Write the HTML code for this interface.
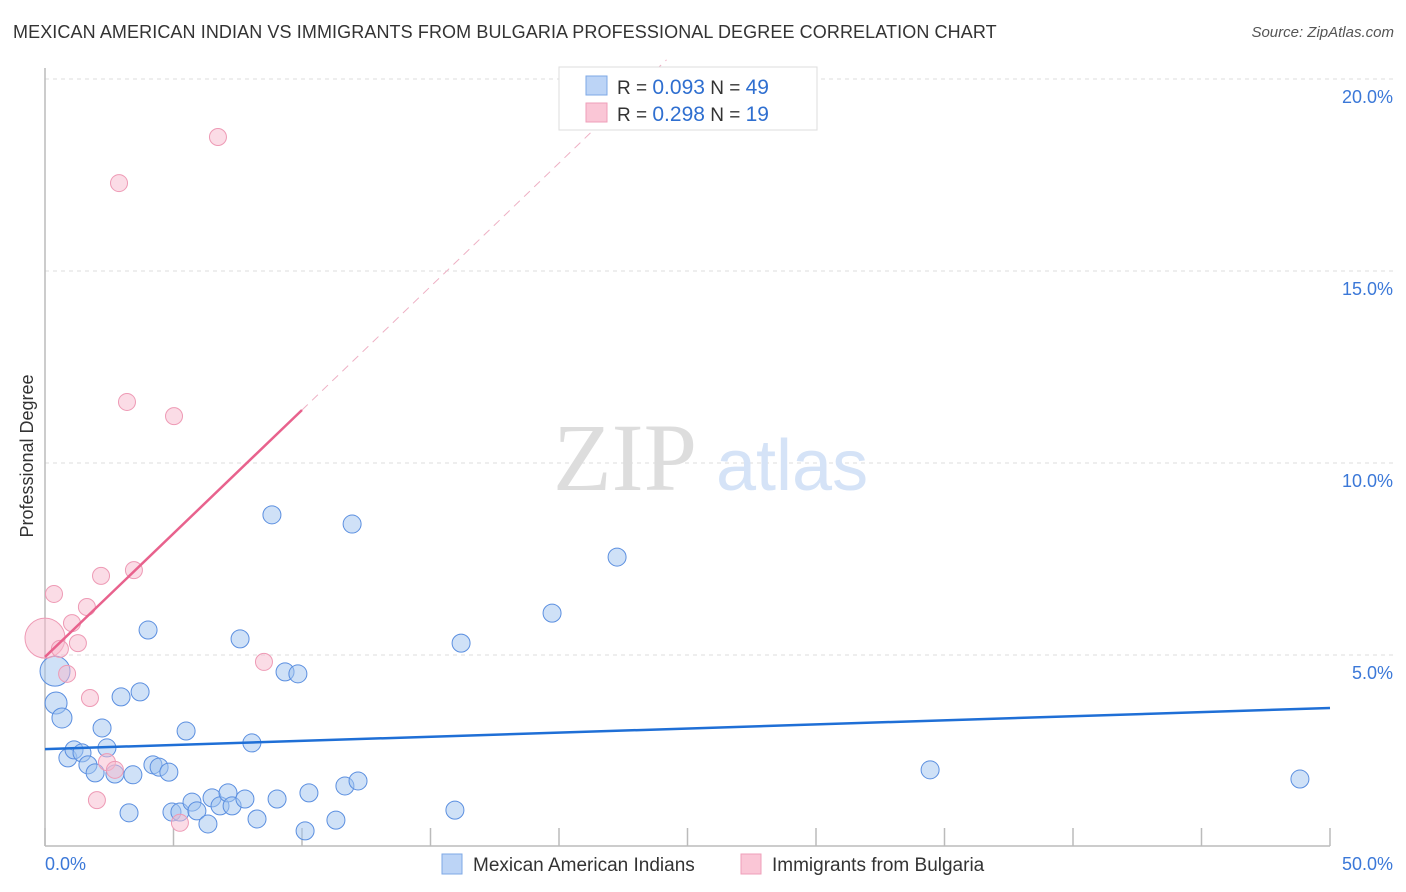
<!DOCTYPE html>
<html><head><meta charset="utf-8">
<style>
body{margin:0;background:#fff;font-family:"Liberation Sans",sans-serif;}
#wrap{position:relative;width:1406px;height:892px;overflow:hidden;}
.title{position:absolute;left:13px;top:22px;font-size:18px;color:#333;letter-spacing:0.1px;}
.source{position:absolute;right:12px;top:24px;font-size:15px;color:#555;font-style:italic;}
</style></head>
<body>
<div id="wrap">
<div class="title">MEXICAN AMERICAN INDIAN VS IMMIGRANTS FROM BULGARIA PROFESSIONAL DEGREE CORRELATION CHART</div>
<div class="source">Source: ZipAtlas.com</div>
<svg id="svg" width="1406" height="892" style="position:absolute;left:0;top:0"></svg>
</div>
<script>
const blueX=[0.39,0.43,0.66,0.89,1.13,1.44,1.67,1.95,2.22,2.41,2.72,2.96,3.27,3.42,3.70,4.01,4.20,4.44,4.82,4.94,5.25,5.49,5.72,5.91,6.34,6.50,6.81,7.12,7.28,7.59,7.78,8.05,8.25,8.83,9.03,9.34,9.84,10.12,10.27,11.32,11.67,11.95,12.18,15.95,16.19,19.73,22.26,34.44,48.83];
const blueY=[4.58,3.75,3.36,2.32,2.53,2.45,2.14,1.93,3.10,2.58,1.90,3.91,0.89,1.88,4.04,5.65,2.14,2.08,1.95,0.91,0.91,3.02,1.17,0.94,0.60,1.28,1.07,1.41,1.07,5.42,1.25,2.71,0.73,8.65,1.25,4.56,4.51,0.42,1.41,0.70,1.59,8.41,1.72,0.96,5.31,6.09,7.55,2.01,1.77];
const blueR=[15,11,10,9,9,9,9,9,9,9,9,9,9,9,9,9,9,9,9,9,9,9,9,9,9,9,9,9,9,9,9,9,9,9,9,9,9,9,9,9,9,9,9,9,9,9,9,9,9];
const pinkX=[0,0.35,0.58,0.86,1.05,1.28,1.63,1.75,2.02,2.18,2.41,2.72,2.88,3.19,3.46,5.02,5.25,6.73,8.52];
const pinkY=[5.44,6.59,5.16,4.51,5.83,5.31,6.25,3.88,1.22,7.06,2.21,2.01,17.29,11.59,7.21,11.22,0.63,18.49,4.82];
const pinkR=[20,8.5,8.5,8.5,8.5,8.5,8.5,8.5,8.5,8.5,8.5,8.5,8.5,8.5,8.5,8.5,8.5,8.5,8.5];
const yTicks=[5,10,15,20];
const yTickLabels=["5.0%","10.0%","15.0%","20.0%"];
const xTickVals=[0,5,10,15,20,25,30,35,40,45,50];
const blueTrend=[2.55,3.62];
const pinkTrend=[4.95,11.38];

const X0=45,X1=1330,YB=847,PX=25.7,PY=38.4;
const sx=v=>X0+v*PX, sy=v=>YB-v*PY;
const svg=document.getElementById('svg');
const NS='http://www.w3.org/2000/svg';
function mk(t,a,parent){const e=document.createElementNS(NS,t);for(const k in a)e.setAttribute(k,a[k]);(parent||svg).appendChild(e);return e;}

// gridlines
yTicks.forEach((v,i)=>{
 const g=mk('line',{x1:X0,x2:1395,y1:sy(v),y2:sy(v),stroke:'#ddd','stroke-dasharray':'4,4','stroke-width':1});
 
 
 const t=mk('text',{x:1393,y:sy(v)+24,'text-anchor':'end','font-size':18,fill:'#3b78d8','font-family':'Liberation Sans, sans-serif'});
 t.textContent=yTickLabels[i];
 
 
});
// top dashed line
const tl=mk('line',{x1:X0,x2:1395,y1:79,y2:79,stroke:'#ddd','stroke-dasharray':'4,4'});


// axes
const ya=mk('line',{x1:X0,x2:X0,y1:68,y2:846,stroke:'#bbb','stroke-width':1.5});


const xa=mk('line',{x1:X0,x2:1330,y1:846,y2:846,stroke:'#bbb','stroke-width':1.5});


xTickVals.forEach(v=>{
 const t=mk('line',{x1:sx(v),x2:sx(v),y1:828,y2:846,stroke:'#bbb','stroke-width':1.5});
 
 
});
// x labels
[[0,'0.0%','start',45],[50,'50.0%','end',1393]].forEach(a=>{
 const t=mk('text',{x:a[3],y:870,'text-anchor':a[2],'font-size':18,fill:'#3b78d8','font-family':'Liberation Sans, sans-serif'});
 t.textContent=a[1];
 
 
});
// y axis title
const yt=mk('text',{x:0,y:0,transform:'translate(33,456) rotate(-90)','text-anchor':'middle','font-size':18,fill:'#333','font-family':'Liberation Sans, sans-serif'});
yt.textContent='Professional Degree';


// watermark
const wm=mk('text',{x:553,y:490,'font-size':96,fill:'#ddd','font-family':'Liberation Serif, serif'});
wm.textContent='ZIP';


const wm2=mk('text',{x:716,y:490,'font-size':72,fill:'#d5e3f7','font-family':'Liberation Sans, sans-serif'});
wm2.textContent='atlas';



// points
blueX.forEach((x,i)=>{
 const c=mk('circle',{cx:sx(x),cy:sy(blueY[i]),r:blueR[i],fill:'rgba(160,195,240,0.5)',stroke:'#5b8fe0','stroke-width':1});
 
 
});
pinkX.forEach((x,i)=>{
 const c=mk('circle',{cx:sx(x),cy:sy(pinkY[i]),r:pinkR[i],fill:'rgba(248,185,205,0.5)',stroke:'#ee9ab5','stroke-width':1});
 
 
});
// trend lines
const bl=mk('line',{x1:sx(0),y1:sy(blueTrend[0]),x2:sx(50),y2:sy(blueTrend[1]),stroke:'#1f6fd6','stroke-width':2.5});


const slope=(pinkTrend[1]-pinkTrend[0])/10;
const pl=mk('line',{x1:sx(0),y1:sy(pinkTrend[0]),x2:sx(10),y2:sy(pinkTrend[1]),stroke:'#e8628d','stroke-width':2.5});


const xe=(20.5-pinkTrend[0])/slope;
const pd=mk('line',{x1:sx(10),y1:sy(pinkTrend[1]),x2:sx(xe),y2:sy(pinkTrend[0]+slope*xe),stroke:'#eeb0c4','stroke-width':1,'stroke-dasharray':'8,6'});



// top legend
const lg=mk('g',{});


mk('rect',{x:559,y:67,width:258,height:63,fill:'#fff',stroke:'#ddd'},lg);
mk('rect',{x:586,y:76,width:21,height:19,fill:'#bcd4f6',stroke:'#7ea8e6'},lg);
mk('rect',{x:586,y:103,width:21,height:19,fill:'#fac6d6',stroke:'#ef9fb9'},lg);
[[94,'0.093','49'],[121,'0.298',' 19']].forEach(r=>{
 const t=mk('text',{x:617,y:r[0],'font-size':19,fill:'#333','font-family':'Liberation Sans, sans-serif'},lg);
 t.innerHTML='R = <tspan fill="#2f6fd0" font-size="21">'+r[1]+'</tspan>   N = <tspan fill="#2f6fd0" font-size="21">'+r[2]+'</tspan>';
 t.setAttribute('xml:space','preserve');
 
 
});

// bottom legend
const bl2=mk('g',{});


mk('rect',{x:442,y:854,width:20,height:20,fill:'#bcd4f6',stroke:'#7ea8e6'},bl2);
mk('rect',{x:741,y:854,width:20,height:20,fill:'#fac6d6',stroke:'#ef9fb9'},bl2);
[[473,'Mexican American Indians'],[772,'Immigrants from Bulgaria']].forEach(a=>{
 const t=mk('text',{x:a[0],y:871,'font-size':19,fill:'#333','font-family':'Liberation Sans, sans-serif'},bl2);
 t.textContent=a[1];
 
 
});
</script>
</body></html>
